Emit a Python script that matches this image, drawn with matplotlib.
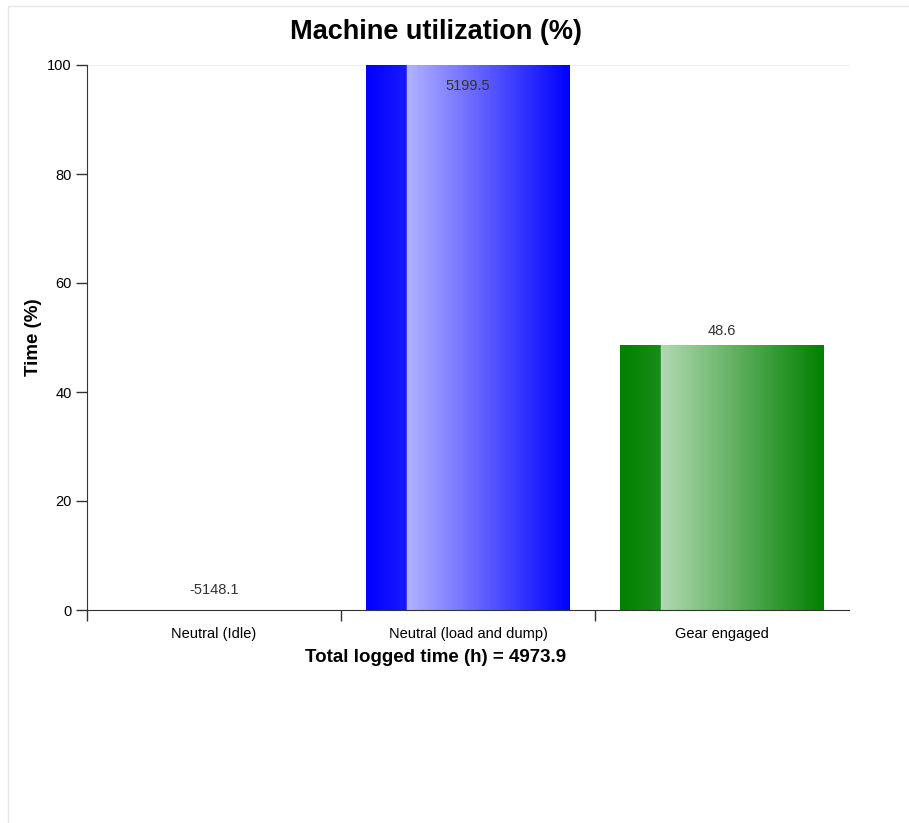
import numpy as np
import matplotlib
matplotlib.use("Agg")
import matplotlib.pyplot as plt
from matplotlib.colors import to_rgb
from matplotlib.patches import Rectangle

plt.rcParams['font.family'] = ['Liberation Sans', 'DejaVu Sans']

categories = ['Neutral (Idle)', 'Neutral (load and dump)', 'Gear engaged']
values = [-5148.1, 5199.5, 48.6]
bar_colors = ['#ff0000', '#0000ff', '#008000']
total_hours = 4973.9

fig = plt.figure(figsize=(9.09, 8.23), dpi=100)
# light frame of the chart container
fig.patches.append(Rectangle((8 / 909, -0.01), 1.0, 1 - 6 / 823 + 0.01,
                             transform=fig.transFigure, fill=False,
                             edgecolor='#e6e6e6', linewidth=1))
ax = fig.add_axes([87 / 909, 1 - 610 / 823, (849 - 87) / 909, (610 - 65) / 823])

ymin, ymax = 0, 100
x = np.arange(len(categories))
width = 0.8


def gradient_img(color):
    c = np.array(to_rgb(color))
    white = np.ones(3)
    t = np.linspace(0, 1, 400)
    img = np.zeros((1, len(t), 3))
    for i, v in enumerate(t):
        if v < 0.2:
            k = v / 0.2 * 0.1
        else:
            k = 0.7 * (1 - (v - 0.2) / 0.8)
        img[0, i] = c + (white - c) * k
    return img


bars = ax.bar(x, values, width=width, color='none', edgecolor='none')
for b, col in zip(bars, bar_colors):
    x0 = b.get_x()
    h = b.get_height()
    y0, y1 = sorted([0, h])
    y0, y1 = max(y0, ymin), min(y1, ymax)
    if y1 <= y0:
        continue
    ax.imshow(gradient_img(col), extent=[x0, x0 + width, y0, y1],
              aspect='auto', zorder=2)

# value labels
for xi, v in zip(x, values):
    if v > ymax:
        ax.text(xi, ymax - 3.8, f'{v:.1f}', ha='center', va='center',
                fontsize=10.5, color='#333333', zorder=3)
    elif v < ymin:
        ax.text(xi, ymin + 3.7, f'{v:.1f}', ha='center', va='center',
                fontsize=10.5, color='#333333', zorder=3)
    else:
        ax.text(xi, v + 2.6, f'{v:.1f}', ha='center', va='center',
                fontsize=10.5, color='#333333', zorder=3)

ax.set_xlim(-0.5, len(categories) - 0.5)
ax.set_ylim(ymin, ymax)
ax.axhline(100, color='#f0f0f0', linewidth=1, zorder=0)

ax.spines['top'].set_visible(False)
ax.spines['right'].set_visible(False)
ax.spines['left'].set_color('#333333')
ax.spines['bottom'].set_color('#333333')

ax.set_yticks([0, 20, 40, 60, 80, 100])
ax.tick_params(axis='y', length=8, width=1, color='#333333', labelsize=10.5, pad=3)
ax.set_xticks(np.arange(len(categories) + 1) - 0.5, minor=False)
ax.set_xticklabels([])
ax.tick_params(axis='x', which='major', length=8, width=1, color='#333333')
ax.set_xticks(x, minor=True)
ax.set_xticklabels(categories, minor=True)
ax.tick_params(axis='x', which='minor', length=0, labelsize=10.5, pad=12)
ax.xaxis.get_major_ticks()[-1].tick1line.set_visible(False)

fig.text(436 / 909, 1 - 32 / 823, 'Machine utilization (%)', fontsize=19.5,
         fontweight='bold', ha='center', va='center')
fig.text(436 / 909, 1 - 657 / 823, f'Total logged time (h) = {total_hours}',
         fontsize=13.5, fontweight='bold', ha='center', va='center')
fig.text(33 / 909, 1 - 337 / 823, 'Time (%)', fontsize=13.5, fontweight='bold',
         rotation=90, ha='center', va='center')

fig.savefig('out.png', dpi=100)
